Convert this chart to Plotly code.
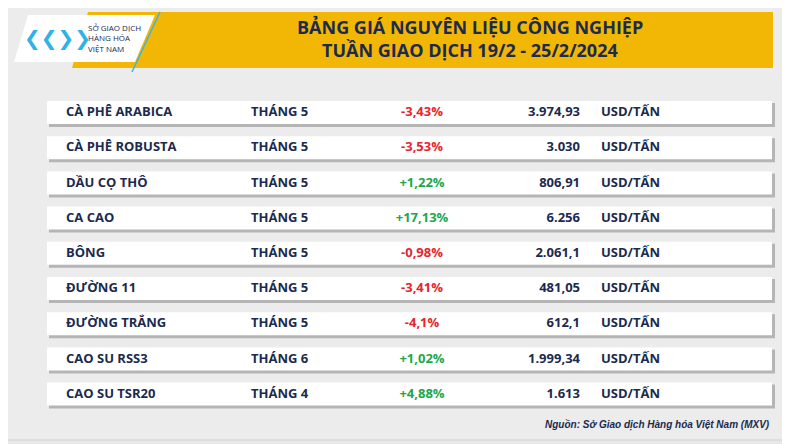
import plotly.graph_objects as go

names = ["CÀ PHÊ ARABICA","CÀ PHÊ ROBUSTA","DẦU CỌ THÔ","CA CAO","BÔNG","ĐƯỜNG 11","ĐƯỜNG TRẮNG","CAO SU RSS3","CAO SU TSR20"]
months = ["THÁNG 5"]*7 + ["THÁNG 6","THÁNG 4"]
changes = ["-3,43%","-3,53%","+1,22%","+17,13%","-0,98%","-3,41%","-4,1%","+1,02%","+4,88%"]
prices = ["3.974,93","3.030","806,91","6.256","2.061,1","481,05","612,1","1.999,34","1.613"]
units = ["USD/TẤN"]*9
rows = list(range(len(names)))

NAVY = "#1b2a4e"
def ry(i): return 113 + i*35.2

fig = go.Figure()
shapes = []
shapes.append(dict(type="rect", x0=0, x1=800, y0=0, y1=460, fillcolor="#e8e8e8", line_width=0, layer="below"))
shapes.append(dict(type="rect", x0=5, x1=785, y0=4, y1=440, fillcolor="#ececec", line=dict(color="#d0d0d0", width=1), layer="below"))
shapes.append(dict(type="path", path="M 88 12 L 773 12 L 773 68 L 72 68 Z", fillcolor="#F2B705", line_width=0, layer="below"))
shapes.append(dict(type="path", path="M 28 15 L 155 15 L 135 62 L 14 62 Z", fillcolor="white", line_width=0, layer="below"))
shapes.append(dict(type="line", x0=160, x1=132, y0=12, y1=72, line=dict(color="#3fb4e0", width=1.5)))
for i in rows:
    y = ry(i)
    shapes.append(dict(type="rect", x0=49, x1=775, y0=y-10, y1=y+14, fillcolor="#b5b5b5", line_width=0, layer="below"))
    shapes.append(dict(type="rect", x0=47, x1=772, y0=y-12, y1=y+11, fillcolor="white", line_width=0, layer="below"))

ys = [ry(i) for i in rows]
fnt = dict(family="Open Sans", size=13, color=NAVY)
fig.add_trace(go.Scatter(x=[66]*9, y=ys, text=names, mode="text", textposition="middle right", textfont=fnt))
fig.add_trace(go.Scatter(x=[251]*9, y=ys, text=months, mode="text", textposition="middle right", textfont=fnt))
cols = ["#e8242c" if c.startswith("-") else "#1aa84b" for c in changes]
fig.add_trace(go.Scatter(x=[422]*9, y=ys, text=changes, mode="text", textposition="middle center",
                         textfont=dict(family="Open Sans", size=13, color=cols)))
fig.add_trace(go.Scatter(x=[580]*9, y=ys, text=prices, mode="text", textposition="middle left", textfont=fnt))
fig.add_trace(go.Scatter(x=[601]*9, y=ys, text=units, mode="text", textposition="middle right", textfont=fnt))

ann = [
    dict(x=470, y=27, text="<b>BẢNG GIÁ NGUYÊN LIỆU CÔNG NGHIỆP</b>", font=dict(family="Open Sans", size=18, color=NAVY, weight=800)),
    dict(x=470, y=50, text="<b>TUẦN GIAO DỊCH 19/2 - 25/2/2024</b>", font=dict(family="Open Sans", size=18, color=NAVY, weight=800)),
    dict(x=86, y=38, text="SỞ GIAO DỊCH<br>HÀNG HÓA<br>VIỆT NAM", xanchor="left", align="left",
         font=dict(family="Open Sans", size=8, color="#1b2a4e")),
    dict(x=57, y=38, text="❮❮❯❯", font=dict(family="DejaVu Sans", size=20, color="#2fb3e6")),
    dict(x=772, y=425, text="<i><b>Nguồn: Sở Giao dịch Hàng hóa Việt Nam (MXV)</b></i>", xanchor="right",
         font=dict(family="Liberation Sans", size=10, color=NAVY)),
]
for a in ann:
    a.update(xref="x", yref="y", showarrow=False)
    a.setdefault("xanchor", "center")

fig.update_layout(width=790, height=444, margin=dict(l=0, r=0, t=0, b=0), showlegend=False,
                  paper_bgcolor="#e8e8e8", plot_bgcolor="#e8e8e8", shapes=shapes, annotations=ann,
                  xaxis=dict(range=[8, 798], visible=False, fixedrange=True),
                  yaxis=dict(range=[452, 8], visible=False, fixedrange=True))
fig.for_each_trace(lambda t: t.update(textfont_weight=700, hoverinfo="skip"))
fig.write_html("out.html", config={"displayModeBar": False})
